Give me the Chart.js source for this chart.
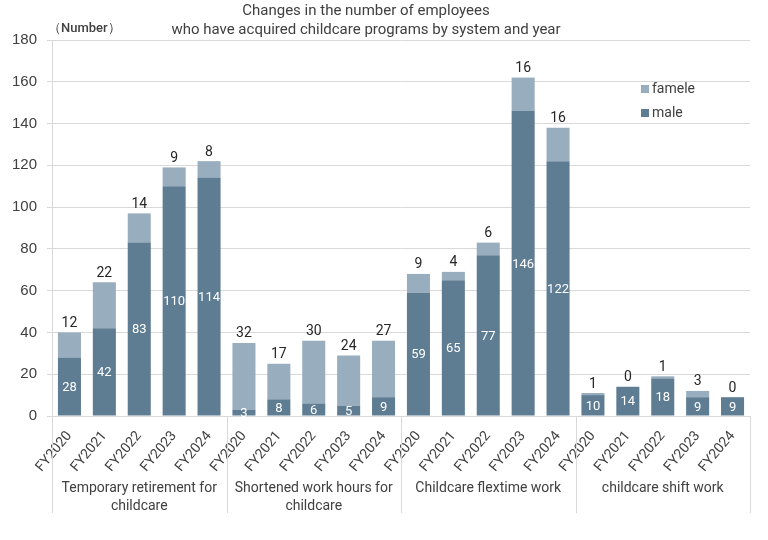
<!DOCTYPE html>
<html>
<head>
<meta charset="utf-8">
<script src="https://cdn.jsdelivr.net/npm/chart.js@4.4.1/dist/chart.umd.min.js"></script>
<style>
  html, body { margin: 0; padding: 0; background: #fff; }
  #wrap { width: 768px; height: 540px; }
</style>
</head>
<body>
<div id="wrap"><canvas id="chart" width="768" height="540"></canvas></div>
<script>
const years = ['FY2020', 'FY2021', 'FY2022', 'FY2023', 'FY2024'];
const groups = [
  ['Temporary retirement for', 'childcare'],
  ['Shortened work hours for', 'childcare'],
  ['Childcare flextime work'],
  ['childcare shift work']
];
const maleCounts = [28, 42, 83, 110, 114, 3, 8, 6, 5, 9, 59, 65, 77, 146, 122, 10, 14, 18, 9, 9];
const femaleCounts = [12, 22, 14, 9, 8, 32, 17, 30, 24, 27, 9, 4, 6, 16, 16, 1, 0, 1, 3, 0];
const yTicks = [0, 20, 40, 60, 80, 100, 120, 140, 160, 180];

const MALE = '#5e7c92';
const FEMALE = '#98adbe';
const TEXT = '#404040';
const FONT = 'Roboto, "Noto Sans", sans-serif';

const labels = [];
groups.forEach(() => years.forEach(y => labels.push(y)));

// title, legend, group labels, value labels
const extras = {
  id: 'extras',
  afterDraw(chart) {
    const ctx = chart.ctx;
    const x = chart.scales.x;
    const area = chart.chartArea;
    ctx.save();

    ctx.fillStyle = TEXT;
    ctx.textAlign = 'center';
    ctx.textBaseline = 'middle';
    ctx.font = '15px ' + FONT;
    ctx.fillText('Changes in the number of employees', 366, 11);
    ctx.fillText('who have acquired childcare programs by system and year', 366, 30);

    ctx.textAlign = 'left';
    ctx.font = '500 13px ' + FONT;
    ctx.fillText('（Number）', 48, 29);

    // legend
    const legend = [['famele', FEMALE, 89], ['male', MALE, 113]];
    legend.forEach(([name, color, ly]) => {
      ctx.fillStyle = color;
      ctx.fillRect(641, ly - 4, 8, 8);
      ctx.fillStyle = TEXT;
      ctx.font = '14px ' + FONT;
      ctx.fillText(name, 652, ly);
    });

    // group separators + labels
    const n = years.length;
    ctx.strokeStyle = '#d9d9d9';
    ctx.lineWidth = 1;
    const edges = [area.left];
    for (let g = 1; g < groups.length; g++) {
      edges.push((x.getPixelForValue(g * n - 1) + x.getPixelForValue(g * n)) / 2);
    }
    edges.push(area.right);
    edges.forEach(px => {
      ctx.beginPath();
      ctx.moveTo(Math.round(px) + 0.5, area.bottom);
      ctx.lineTo(Math.round(px) + 0.5, 513);
      ctx.stroke();
    });
    ctx.fillStyle = TEXT;
    ctx.textAlign = 'center';
    ctx.font = '14px ' + FONT;
    groups.forEach((lines, g) => {
      const cx = (edges[g] + edges[g + 1]) / 2;
      lines.forEach((t, i) => ctx.fillText(t, cx, 488 + i * 18));
    });

    // value labels
    ctx.font = '13px ' + FONT;
    chart.getDatasetMeta(0).data.forEach((el, i) => {
      ctx.fillStyle = '#ffffff';
      ctx.textBaseline = 'middle';
      ctx.fillText(String(maleCounts[i]), el.x, (el.y + el.base) / 2 + 1);
    });
    ctx.font = '14px ' + FONT;
    chart.getDatasetMeta(1).data.forEach((el, i) => {
      ctx.fillStyle = '#262626';
      ctx.textBaseline = 'bottom';
      ctx.fillText(String(femaleCounts[i]), el.x, el.y - 2);
    });
    ctx.restore();
  }
};

new Chart(document.getElementById('chart'), {
  type: 'bar',
  data: {
    labels: labels,
    datasets: [
      { label: 'male', data: maleCounts, backgroundColor: MALE, borderWidth: 0 },
      { label: 'famele', data: femaleCounts, backgroundColor: FEMALE, borderWidth: 0 }
    ]
  },
  options: {
    responsive: false,
    animation: false,
    devicePixelRatio: 1,
    layout: { padding: { top: 40, right: 18, left: 0, bottom: 0 } },
    datasets: { bar: { categoryPercentage: 1, barPercentage: 0.66 } },
    plugins: {
      legend: { display: false },
      tooltip: { enabled: false },
      title: { display: false }
    },
    scales: {
      x: {
        stacked: true,
        grid: { display: false },
        border: { display: false },
        ticks: {
          color: TEXT,
          font: { family: FONT, size: 14 },
          minRotation: 50,
          maxRotation: 50,
          autoSkip: false,
          padding: 4
        },
        afterFit(scale) { scale.height = 124; }
      },
      y: {
        stacked: true,
        min: 0,
        max: 180,
        afterBuildTicks(scale) { scale.ticks = yTicks.map(v => ({ value: v })); },
        grid: { color: '#d9d9d9', tickLength: 5 },
        border: { display: true, color: '#d9d9d9' },
        ticks: {
          color: TEXT,
          font: { family: '"Liberation Sans", Arial, sans-serif', size: 15 },
          padding: 10
        },
        afterFit(scale) { scale.width = 52; }
      }
    }
  },
  plugins: [extras]
});
</script>
</body>
</html>
